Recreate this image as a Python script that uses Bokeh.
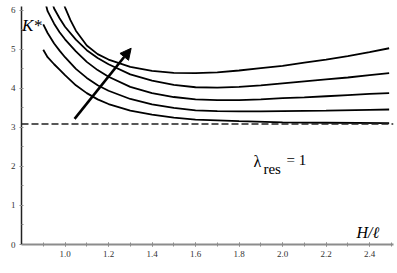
from bokeh.plotting import figure
from bokeh.models import Range1d, FixedTicker, Label, Span, Arrow, NormalHead, NumeralTickFormatter
from bokeh.embed import file_html
from bokeh.resources import INLINE

# ---- data ----
c1_x = [0.99, 1.0, 1.025, 1.05, 1.1, 1.15, 1.2, 1.3, 1.4, 1.5, 1.6, 1.7, 1.8, 1.9, 2.0, 2.1, 2.2, 2.3, 2.4, 2.49]
c1_y = [6.25, 6.08, 5.75, 5.48, 5.10, 4.88, 4.74, 4.55, 4.45, 4.40, 4.39, 4.41, 4.46, 4.52, 4.58, 4.66, 4.74, 4.83, 4.93, 5.03]

c2_x = [0.935, 0.95, 0.975, 1.0, 1.05, 1.1, 1.15, 1.2, 1.3, 1.4, 1.5, 1.6, 1.7, 1.8, 1.9, 2.0, 2.1, 2.2, 2.3, 2.4, 2.49]
c2_y = [6.30, 6.05, 5.80, 5.58, 5.25, 4.98, 4.78, 4.62, 4.36, 4.20, 4.09, 4.03, 4.02, 4.04, 4.08, 4.13, 4.18, 4.23, 4.28, 4.34, 4.39]

c3_x = [0.905, 0.92, 0.95, 0.975, 1.0, 1.05, 1.1, 1.15, 1.2, 1.3, 1.4, 1.5, 1.6, 1.7, 1.8, 1.9, 2.0, 2.1, 2.2, 2.3, 2.4, 2.49]
c3_y = [6.30, 5.98, 5.66, 5.44, 5.26, 4.95, 4.68, 4.47, 4.30, 4.04, 3.88, 3.78, 3.72, 3.70, 3.70, 3.72, 3.75, 3.77, 3.80, 3.83, 3.86, 3.88]

c4_x = [0.90, 0.92, 0.95, 0.975, 1.0, 1.05, 1.1, 1.15, 1.2, 1.3, 1.4, 1.5, 1.6, 1.7, 1.8, 1.9, 2.0, 2.2, 2.4, 2.49]
c4_y = [5.64, 5.42, 5.15, 4.97, 4.80, 4.50, 4.27, 4.08, 3.94, 3.73, 3.59, 3.50, 3.44, 3.42, 3.41, 3.41, 3.42, 3.43, 3.45, 3.46]

c5_x = [0.90, 0.92, 0.95, 0.975, 1.0, 1.05, 1.1, 1.15, 1.2, 1.3, 1.4, 1.5, 1.6, 1.7, 1.8, 2.0, 2.2, 2.49]
c5_y = [4.99, 4.80, 4.62, 4.48, 4.34, 4.08, 3.88, 3.72, 3.60, 3.43, 3.33, 3.25, 3.20, 3.18, 3.16, 3.13, 3.12, 3.11]

asymptote = 3.09

x_tick_values = [1.0, 1.2, 1.4, 1.6, 1.8, 2.0, 2.2, 2.4]
x_minor_values = [0.9, 1.0, 1.1, 1.2, 1.3, 1.4, 1.5, 1.6, 1.7, 1.8, 1.9, 2.0, 2.1, 2.2, 2.3, 2.4, 2.5]
y_tick_values = [0, 1, 2, 3, 4, 5, 6]
y_minor_values = [0.5, 1.5, 2.5, 3.5, 4.5, 5.5]

curves_x = [c1_x, c2_x, c3_x, c4_x, c5_x]
curves_y = [c1_y, c2_y, c3_y, c4_y, c5_y]

SERIF = "'Liberation Serif', 'Times New Roman', serif"

p = figure(width=397, height=273, output_backend="svg", toolbar_location=None,
           x_range=Range1d(0.8, 2.51), y_range=Range1d(0, 6.1),
           min_border_left=21, min_border_right=4, min_border_top=6, min_border_bottom=29)
p.outline_line_color = None
p.xgrid.visible = False
p.ygrid.visible = False
p.background_fill_color = "white"
p.border_fill_color = "white"

# axes
xa = p.xaxis[0]
xa.ticker = FixedTicker(ticks=x_tick_values, minor_ticks=x_minor_values)
xa.formatter = NumeralTickFormatter(format="0.0")
xa.axis_line_color = "#8c8c8c"
xa.axis_line_width = 2
xa.major_tick_line_color = "#8c8c8c"
xa.minor_tick_line_color = "#8c8c8c"
xa.major_tick_in = 2
xa.major_tick_out = 2
xa.minor_tick_in = 2
xa.minor_tick_out = 2
xa.major_label_standoff = 4
xa.major_label_text_font = SERIF
xa.major_label_text_font_size = "9px"
xa.major_label_text_color = "#333333"

ya = p.yaxis[0]
ya.ticker = FixedTicker(ticks=y_tick_values, minor_ticks=y_minor_values)
ya.axis_line_color = "#222222"
ya.axis_line_width = 1.5
ya.major_tick_line_color = "#8c8c8c"
ya.minor_tick_line_color = "#8c8c8c"
ya.major_tick_in = 2
ya.major_tick_out = 2
ya.minor_tick_in = 2
ya.minor_tick_out = 0
ya.major_label_standoff = 4
ya.major_label_text_font = SERIF
ya.major_label_text_font_size = "9px"
ya.major_label_text_color = "#333333"

# dashed asymptote
p.add_layout(Span(location=asymptote, dimension="width", line_color="#222222",
                  line_width=1.5, line_dash="7 3"))

# curves
for cx, cy in zip(curves_x, curves_y):
    p.line(cx, cy, line_color="black", line_width=1.8)

# arrow
p.add_layout(Arrow(x_start=1.044, y_start=3.22, x_end=1.304, y_end=5.03,
                   line_width=2.6, line_color="black",
                   end=NormalHead(size=11, fill_color="black", line_color="black")))

# labels
p.add_layout(Label(x=0.802, y=5.36, text="K*", text_font=SERIF, text_font_style="italic",
                   text_font_size="17px", text_color="black"))
p.add_layout(Label(x=2.34, y=0.10, text="H/\u2113", text_font=SERIF, text_font_style="italic",
                   text_font_size="16px", text_color="black"))
p.add_layout(Label(x=1.866, y=1.90, text="\u03bb", text_font=SERIF,
                   text_font_size="16px", text_color="black"))
p.add_layout(Label(x=1.912, y=1.72, text="res", text_font=SERIF,
                   text_font_size="15px", text_color="black"))
p.add_layout(Label(x=2.018, y=1.95, text="= 1", text_font=SERIF,
                   text_font_size="15px", text_color="black"))

open("out.html", "w").write(file_html(p, INLINE))
